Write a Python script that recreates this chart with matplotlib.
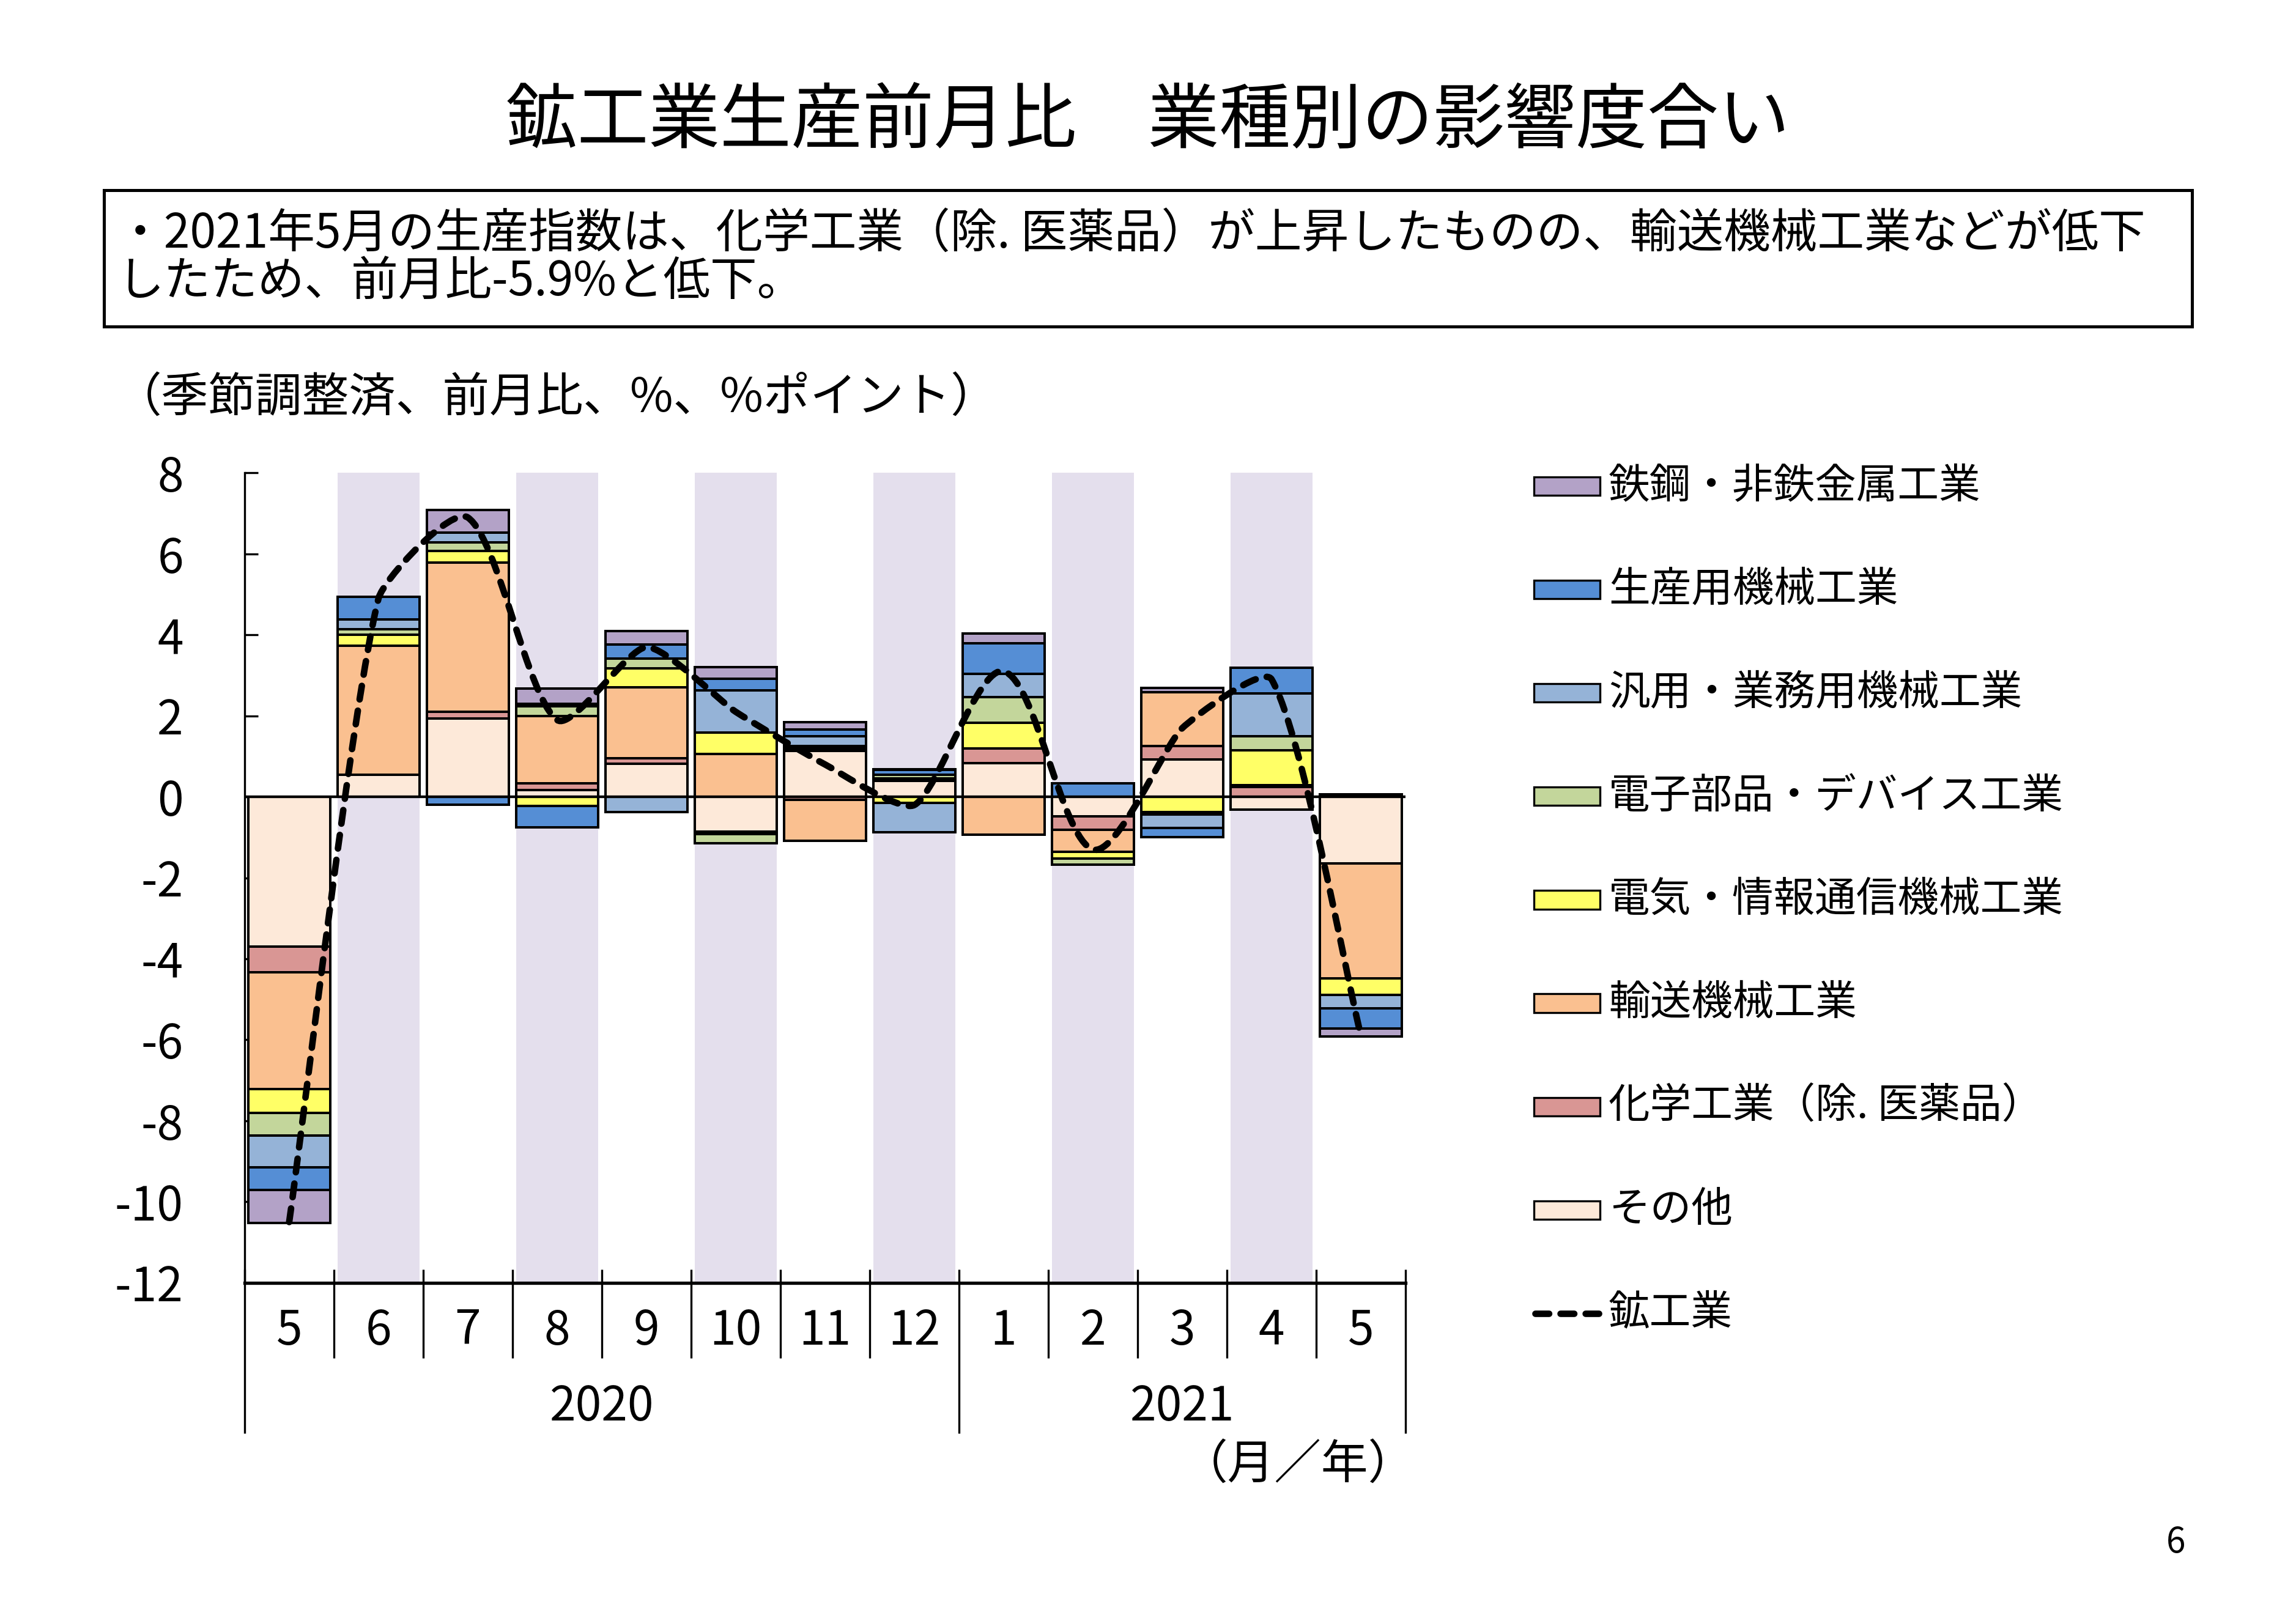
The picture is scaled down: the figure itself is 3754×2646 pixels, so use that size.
import numpy as np
import matplotlib

matplotlib.use("Agg")
import matplotlib.pyplot as plt
from matplotlib.patches import Rectangle, PathPatch
from matplotlib.path import Path
from matplotlib.lines import Line2D

plt.rcParams["font.family"] = ["Noto Sans CJK JP", "DejaVu Sans"]
plt.rcParams["axes.unicode_minus"] = False

# ================= データ（2020年5月〜2021年5月、前月比寄与度 %pt） =================
months = ["5", "6", "7", "8", "9", "10", "11", "12", "1", "2", "3", "4", "5"]
years = ["2020", "2021"]
year_first_idx = [0, 8]
year_last_idx = [7, 12]

sonota = [-3.70, 0.55, 1.94, 0.17, 0.82, -0.86, 1.13, 0.40, 0.83, -0.48, 0.92, -0.32, -1.64]
kagaku = [-0.63, 0.00, 0.16, 0.16, 0.13, -0.06, -0.08, 0.04, 0.37, -0.34, 0.34, 0.24, 0.04]
yuso = [-2.88, 3.18, 3.69, 1.67, 1.76, 1.06, -1.00, 0.02, -0.94, -0.54, 1.33, 0.05, -2.85]
denki = [-0.60, 0.28, 0.29, -0.23, 0.46, 0.53, 0.06, -0.15, 0.63, -0.17, -0.37, 0.86, -0.40]
denshi = [-0.56, 0.13, 0.21, 0.24, 0.25, -0.22, 0.07, 0.09, 0.63, -0.15, -0.06, 0.34, 0.02]
hanyo = [-0.78, 0.24, 0.23, 0.06, -0.38, 1.04, 0.24, -0.72, 0.58, 0.00, -0.34, 1.06, -0.33]
seisanyo = [-0.56, 0.56, -0.19, -0.52, 0.34, 0.29, 0.17, 0.11, 0.75, 0.34, -0.22, 0.64, -0.50]
tekko = [-0.82, 0.00, 0.57, 0.38, 0.33, 0.28, 0.17, 0.02, 0.24, 0.00, 0.10, 0.00, -0.20]

kokogyo = [-10.5, 4.9, 6.9, 1.9, 3.7, 2.1, 0.8, -0.2, 3.1, -1.3, 1.7, 2.9, -5.9]

# 積み上げ順（下から）
stack_labels = ["その他", "化学工業（除. 医薬品）", "輸送機械工業", "電気・情報通信機械工業",
                "電子部品・デバイス工業", "汎用・業務用機械工業", "生産用機械工業", "鉄鋼・非鉄金属工業"]
stack_values = [sonota, kagaku, yuso, denki, denshi, hanyo, seisanyo, tekko]
stack_colors = ["#FDE9D9", "#D99694", "#FAC090", "#FFFF66",
                "#C3D69B", "#95B3D7", "#558ED5", "#B3A2C7"]
line_label = "鉱工業"

band_color = "#E4DFED"
yticks = [8, 6, 4, 2, 0, -2, -4, -6, -8, -10, -12]

# ================= 図 =================
fig = plt.figure(figsize=(3754 / 240, 2646 / 240), dpi=240)
ax_rect = [0.1065, 0.2072, 0.5057, 0.5005]
ax = fig.add_axes(ax_rect)

x = np.arange(len(months))
bar_w = 0.92
ymin, ymax = -12, 8

# 背景の縞
for i in x[1::2]:
    ax.axvspan(i - bar_w / 2, i + bar_w / 2, color=band_color, lw=0, zorder=0)

# 積み上げ棒（正・負を別々に積む）
pos_base = np.zeros(len(x))
neg_base = np.zeros(len(x))
for vals, color in zip(stack_values, stack_colors):
    v = np.array(vals, dtype=float)
    mp = v > 0
    mn = v < 0
    ax.bar(x[mp], v[mp], bottom=pos_base[mp], width=bar_w, color=color,
           edgecolor="black", linewidth=1.2, zorder=2)
    ax.bar(x[mn], v[mn], bottom=neg_base[mn], width=bar_w, color=color,
           edgecolor="black", linewidth=1.2, zorder=2)
    pos_base[mp] += v[mp]
    neg_base[mn] += v[mn]

ax.axhline(0, color="black", lw=1.3, zorder=3)

# 鉱工業（Excel風の平滑線：画面上の距離で制御点を決める）
fw, fh = fig.get_size_inches()
sx = ax_rect[2] * fw / len(x)
sy = ax_rect[3] * fh / (ymax - ymin)
pts = np.column_stack([x * sx, np.array(kokogyo, dtype=float) * sy])
f = 1 / 6
verts = [pts[0]]
codes = [Path.MOVETO]
n = len(pts)
for i in range(n - 1):
    p0 = pts[i - 1] if i > 0 else pts[i]
    p1, p2 = pts[i], pts[i + 1]
    p3 = pts[i + 2] if i + 2 < n else pts[i + 1]
    d12 = np.hypot(*(p2 - p1))
    t1 = (p2 - p0) / np.hypot(*(p2 - p0))
    t2 = (p3 - p1) / np.hypot(*(p3 - p1))
    verts += [p1 + t1 * d12 * f, p2 - t2 * d12 * f, p2]
    codes += [Path.CURVE4] * 3
verts = np.array(verts) / np.array([sx, sy])
dash = (0, (2.1, 1.75))
smooth = PathPatch(Path(verts, codes), fill=False, edgecolor="black", lw=3.2,
                   linestyle=dash, capstyle="round", zorder=4)
ax.add_patch(smooth)

# 軸
ax.set_xlim(-0.5, len(x) - 0.5)
ax.set_ylim(ymin, ymax)
ax.set_yticks(yticks, [str(t) for t in yticks])
ax.set_xticks([])
ax.tick_params(axis="y", direction="in", length=6.6, width=1.0, pad=30, labelsize=23)
ax.spines["top"].set_visible(False)
ax.spines["right"].set_visible(False)
ax.spines["left"].set_linewidth(1.0)
ax.spines["bottom"].set_linewidth(1.6)
ax.spines["bottom"].set_zorder(5)

# 月ラベルと区切り線
for i, m in enumerate(months):
    ax.text(i, -13.2, m, ha="center", va="center", fontsize=23, clip_on=False)
inner = [b + 0.5 for b in x[:-1] if b + 1 not in year_first_idx]
ax.vlines(inner, -13.86, -11.67, color="black", lw=1.0, clip_on=False)
outer = [-0.5] + [fi - 0.5 for fi in year_first_idx[1:]] + [len(x) - 0.5]
ax.vlines(outer, -15.72, -11.67, color="black", lw=1.0, clip_on=False)
for yl, a, b in zip(years, year_first_idx, year_last_idx):
    ax.text((a + b) / 2, -15.07, yl, ha="center", va="center", fontsize=23, clip_on=False)
ax.text(12.61, -16.5, "（月／年）", ha="right", va="center", fontsize=23, clip_on=False)

# 凡例（右側）
leg_top = 0.6995
leg_step = 0.0639
for k, (lab, col) in enumerate(zip(stack_labels[::-1], stack_colors[::-1])):
    yy = leg_top - k * leg_step
    fig.add_artist(Rectangle((0.668, yy - 0.0057), 0.0288, 0.0114, transform=fig.transFigure,
                             facecolor=col, edgecolor="black", lw=1.0))
    fig.text(0.7006, yy, lab, ha="left", va="center", fontsize=20.3)
yy = leg_top - len(stack_labels) * leg_step
fig.add_artist(Line2D([0.6685, 0.6962], [yy, yy], transform=fig.transFigure, color="black",
                      lw=3.2, linestyle=dash, dash_capstyle="round"))
fig.text(0.7006, yy, line_label, ha="left", va="center", fontsize=20.3)

# タイトル・コメント
fig.text(0.5, 0.9248, "鉱工業生産前月比　業種別の影響度合い", ha="center", va="center", fontsize=35)
fig.add_artist(Rectangle((0.0453, 0.798), 0.9094, 0.0844, transform=fig.transFigure,
                         fill=False, edgecolor="black", lw=1.5))
fig.text(0.051, 0.8553, "・2021年5月の生産指数は、化学工業（除. 医薬品）が上昇したものの、輸送機械工業などが低下",
         ha="left", va="center", fontsize=23)
fig.text(0.051, 0.8254, "したため、前月比-5.9%と低下。", ha="left", va="center", fontsize=23)
fig.text(0.050, 0.754, "（季節調整済、前月比、%、%ポイント）", ha="left", va="center", fontsize=23)
fig.text(0.9476, 0.0464, "6", ha="center", va="center", fontsize=17)

fig.savefig("out.png", dpi=240)
